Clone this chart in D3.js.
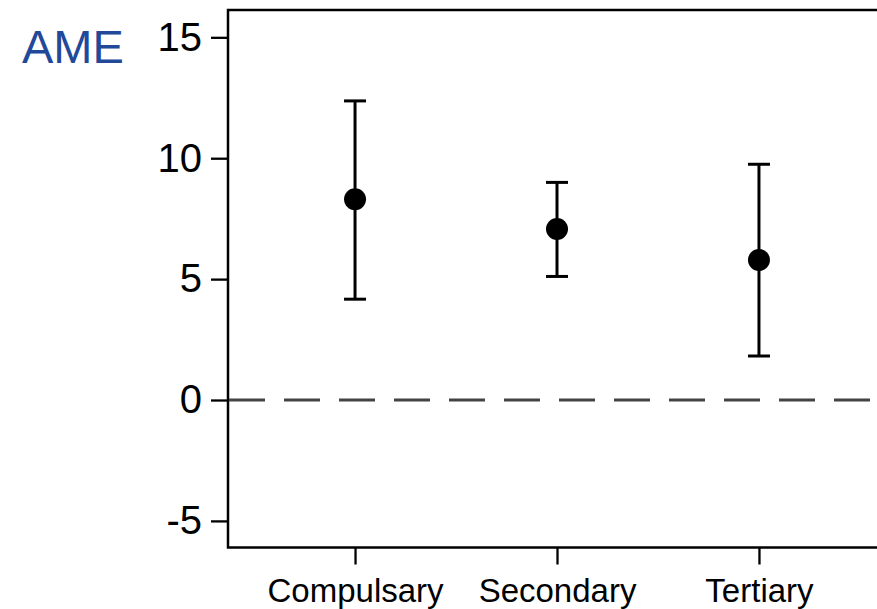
<!DOCTYPE html>
<html>
<head>
<meta charset="utf-8">
<script src="https://cdn.jsdelivr.net/npm/d3@7"></script>
<style>
  body { margin: 0; background: #fff; }
  text { font-family: "Liberation Sans", Arial, Helvetica, sans-serif; }
</style>
</head>
<body>
<div id="chart"></div>
<script>
// data
var categories = ['Compulsary', 'Secondary', 'Tertiary'];
var estimates = [8.3, 7.07, 5.79];
var lowerCI = [4.17, 5.11, 1.82];
var upperCI = [12.37, 9.0, 9.75];
var yTicks = [-5, 0, 5, 10, 15];

var width = 877, height = 609;
// plot box (right edge runs just past the window)
var boxLeft = 228, boxTop = 10, boxRight = 886, boxBottom = 547.5;

var svg = d3.select('#chart').append('svg')
    .attr('width', width)
    .attr('height', height);

var x = d3.scalePoint()
    .domain(categories)
    .range([boxLeft, boxRight])
    .padding(0.629);

var y = d3.scaleLinear()
    .domain([-6.1, 16.13])
    .range([boxBottom, boxTop]);

// frame
svg.append('rect')
    .attr('x', boxLeft)
    .attr('y', boxTop)
    .attr('width', boxRight - boxLeft)
    .attr('height', boxBottom - boxTop)
    .attr('fill', 'none')
    .attr('stroke', '#000')
    .attr('stroke-width', 2.5);

// y axis
var yAxis = svg.append('g')
    .attr('transform', 'translate(' + boxLeft + ',0)')
    .call(d3.axisLeft(y).tickValues(yTicks).tickSize(17).tickPadding(9).tickFormat(d3.format('d')));
yAxis.select('.domain').remove();
yAxis.selectAll('line').attr('stroke', '#000').attr('stroke-width', 2.3);
yAxis.selectAll('text')
    .attr('font-size', 40)
    .attr('fill', '#000')
    .attr('font-family', '"Liberation Sans", Arial, sans-serif')
    .text(function(d) { return d < 0 ? '-' + Math.abs(d) : d; });

// x axis
var xAxis = svg.append('g')
    .attr('transform', 'translate(0,' + boxBottom + ')')
    .call(d3.axisBottom(x).tickSize(17).tickPadding(14));
xAxis.select('.domain').remove();
xAxis.selectAll('line').attr('stroke', '#000').attr('stroke-width', 2.3);
xAxis.selectAll('text')
    .attr('font-size', 33)
    .attr('fill', '#000')
    .attr('font-family', '"Liberation Sans", Arial, sans-serif');

// zero reference line
svg.append('line')
    .attr('x1', boxLeft + 1)
    .attr('x2', boxRight)
    .attr('y1', y(0))
    .attr('y2', y(0))
    .attr('stroke', '#444')
    .attr('stroke-width', 3)
    .attr('stroke-dasharray', '36,19');

// error bars
var rows = categories.map(function(c, i) {
  return { cat: c, est: estimates[i], lo: lowerCI[i], hi: upperCI[i] };
});

var g = svg.append('g');
g.selectAll('.ci').data(rows).enter().append('line')
    .attr('x1', function(d) { return x(d.cat); })
    .attr('x2', function(d) { return x(d.cat); })
    .attr('y1', function(d) { return y(d.lo); })
    .attr('y2', function(d) { return y(d.hi); })
    .attr('stroke', '#000')
    .attr('stroke-width', 3);

['lo', 'hi'].forEach(function(k) {
  g.selectAll('.cap-' + k).data(rows).enter().append('line')
      .attr('x1', function(d) { return x(d.cat) - 11; })
      .attr('x2', function(d) { return x(d.cat) + 11; })
      .attr('y1', function(d) { return y(d[k]); })
      .attr('y2', function(d) { return y(d[k]); })
      .attr('stroke', '#000')
      .attr('stroke-width', 3);
});

g.selectAll('circle').data(rows).enter().append('circle')
    .attr('cx', function(d) { return x(d.cat); })
    .attr('cy', function(d) { return y(d.est); })
    .attr('r', 11)
    .attr('fill', '#000');

// axis title
svg.append('text')
    .attr('x', 22)
    .attr('y', 63)
    .attr('font-size', 47)
    .attr('fill', '#22489a')
    .text('AME');
</script>
</body>
</html>
